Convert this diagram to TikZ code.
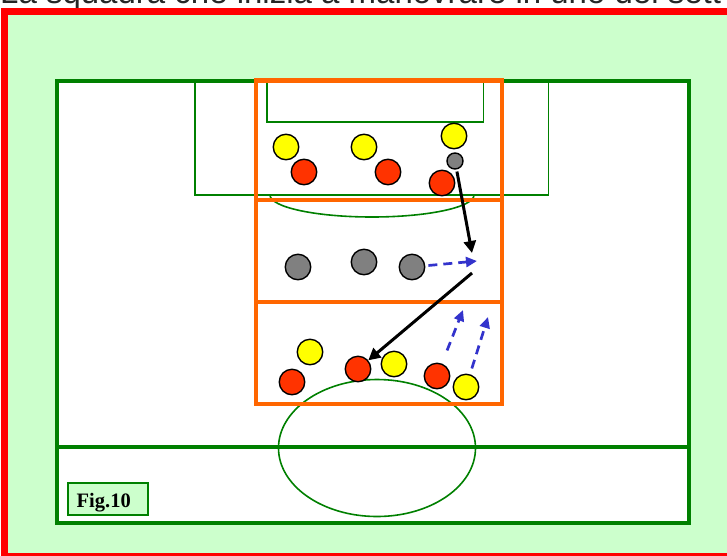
\documentclass[tikz,border=0pt]{standalone}
\usepackage{fontspec}
\newfontfamily\titlefont{Liberation Sans}
\newfontfamily\figfont{Liberation Serif}
\usetikzlibrary{arrows.meta}
\definecolor{bggreen}{HTML}{CCFFCC}
\definecolor{pitchgreen}{HTML}{008000}
\definecolor{zoneorange}{HTML}{FF6600}
\definecolor{framered}{HTML}{FF0000}
\definecolor{plred}{HTML}{FF3300}
\definecolor{plyellow}{HTML}{FFFF00}
\definecolor{plgrey}{HTML}{808080}
\definecolor{runblue}{HTML}{3333CC}
\tikzset{
  player/.style={circle, draw=black, line width=1.4pt, minimum size=25.5pt, inner sep=0pt},
  yelp/.style={player, fill=plyellow},
  redp/.style={player, fill=plred},
  gryp/.style={player, fill=plgrey},
  ballp/.style={circle, draw=black, line width=1.4pt, fill=plgrey, minimum size=16pt, inner sep=0pt},
  pass/.style={draw=black, line width=3pt, -{Triangle[length=12pt,width=12pt]}},
  run/.style={draw=runblue, line width=2.7pt, dash pattern=on 9pt off 6pt, -{Triangle[length=11pt,width=10pt]}},
  thickline/.style={draw=pitchgreen, line width=4pt},
  thinline/.style={draw=pitchgreen, line width=1.6pt},
  zone/.style={draw=zoneorange, line width=4.3pt},
}
\begin{document}
\begin{tikzpicture}[x=1pt,y=-1pt]
\useasboundingbox (0,0) rectangle (727,555);
\clip (0,0) rectangle (727,555);
% cut-off heading
\node[anchor=base west, inner sep=0pt, text=black!85, font=\titlefont\fontsize{33}{36}\selectfont] (title) at (0,3) {La squadra che inizia a manovrare in uno dei sett};
% background and frame
\fill[bggreen] (8,15) rectangle (740,560);
\draw[framered, line width=7pt] (4.5,11.5) rectangle (745,556.5);
% pitch
\draw[thickline, fill=white] (57,80.5) rectangle (688.5,523);
\draw[thinline] (195,80.5) rectangle (548.5,195);
\draw[thinline] (267,80.5) rectangle (483.5,122);
\draw[thinline] (474,195) arc[start angle=0, end angle=-180, x radius=102pt, y radius=22pt];
\draw[draw=pitchgreen, line width=3.2pt] (57,447) -- (688.5,447);
\draw[thinline] (377,448) ellipse [x radius=98.5pt, y radius=68.5pt];
% zones
\draw[zone] (256,80.5) rectangle (502,404);
\draw[zone] (256,200) -- (502,200);
\draw[zone] (256,302) -- (502,302);
% players, top zone
\node[yelp] (y1) at (286,147) {};
\node[redp] (r1) at (304,172) {};
\node[yelp] (y2) at (364,147) {};
\node[redp] (r2) at (388,172) {};
\node[yelp] (y3) at (454,136) {};
\node[ballp] (g0) at (455,161) {};
\node[redp] (r3) at (442,183) {};
% middle zone
\node[gryp] (g1) at (298,267) {};
\node[gryp] (g2) at (364,262) {};
\node[gryp] (g3) at (412,267) {};
% bottom zone
\node[yelp] (y4) at (310,352) {};
\node[redp] (r4) at (292,382) {};
\node[redp] (r5) at (358,369) {};
\node[yelp] (y5) at (394,364) {};
\node[redp] (r6) at (437,376) {};
\node[yelp] (y6) at (466,387) {};
% arrow end points
\coordinate (c1) at (472,253);
\coordinate (c2) at (472,273);
\coordinate (c3) at (477,261);
\coordinate (t1) at (463,310);
\coordinate (t2) at (488,317);
% movements
\draw[pass, shorten <=2pt] (g0) -- (c1);
\draw[pass] (c2) -- (r5);
\draw[run, shorten <=3pt] (g3) -- (c3);
\draw[run, shorten <=14pt] (r6) -- (t1);
\draw[run, shorten <=6pt] (y6) -- (t2);
% figure label
\node[draw=pitchgreen, line width=1.8pt, fill=bggreen, minimum width=80pt, minimum height=32pt, inner sep=0pt] (figbox) at (108,499) {};
\node[anchor=base west, inner sep=0pt, font=\figfont\bfseries\fontsize{20.5}{23}\selectfont] (figlabel) at (76.5,507.5) {Fig.10};
\end{tikzpicture}
\end{document}
